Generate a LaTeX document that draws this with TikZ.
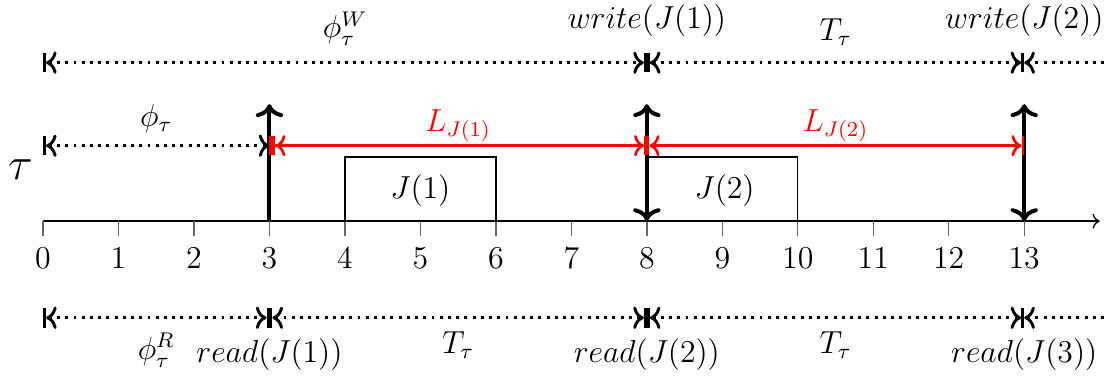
\documentclass[tikz,border=0pt]{standalone}
\usepackage{amsmath, amssymb}
\usetikzlibrary{arrows.meta}
\begin{document}
\begin{tikzpicture}[x=1cm, y=1cm, every node/.style={font=\fontsize{11.6}{14}\selectfont, inner sep=1pt},
  span/.style={line width=1.1pt,dotted},
  lat/.style={line width=1pt,red},
  rel/.style={line width=1.5pt},
  thinline/.style={line width=0.5pt}]
\useasboundingbox (-0.57,-2.05) rectangle (14.11,2.93);

% Task name
\node[font=\fontsize{19}{22}\selectfont] at (-0.3,0.68) (tau) {$\tau$};

% Time axis
\coordinate (ax0) at (0,0);
\coordinate (axend) at (14,0);
\draw[->,thinline] (ax0) -- (axend);
\foreach \t in {0,...,13} {
  \coordinate (tk\t) at (\t,0);
  \coordinate (tb\t) at (\t,-0.2);
  \draw[thinline,gray!80!black] (tk\t) -- (tb\t);
  \node at (\t,-0.49) (lab\t) {$\t$};
}

% Jobs
\draw[thinline] (4,0) rectangle (6,0.85);
\node at (5,0.41) (job1) {$J(1)$};
\draw[thinline] (8,0) rectangle (10,0.85);
\node at (9.03,0.41) (job2) {$J(2)$};

% Release instants
\coordinate (rel3) at (3,1.55);
\coordinate (rel8) at (8,1.55);
\coordinate (rel13) at (13,1.55);
\draw[->,rel] (tk3) -- (rel3);
\draw[<->,rel] (tk8) -- (rel8);
\draw[<->,rel] (tk13) -- (rel13);

% Write instants
\coordinate (wr0) at (0,2.1);
\coordinate (wr8) at (8,2.1);
\coordinate (wr13) at (13,2.1);
\coordinate (wrend) at (14.11,2.1);
\draw[|<->|,span] (wr0) -- (wr8);
\draw[|<->|,span] (wr8) -- (wr13);
\draw[<-,span] (wr13) -- (wrend);
\node at (4,2.55) (phiw) {$\phi_\tau^W$};
\node at (8,2.66) (w1) {$write(J(1))$};
\node at (10.5,2.5) (tw) {$T_\tau$};
\node at (13,2.66) (w2) {$write(J(2))$};

% Offset and latencies
\coordinate (ph0) at (0,1);
\coordinate (ph3) at (3,1);
\coordinate (ph8) at (8,1);
\coordinate (ph13) at (13,1);
\draw[|<->,span] (ph0) -- (ph3);
\draw[{|[line width=2.2pt]<}-{>|},lat] (ph3) -- (ph8);
\draw[|<->|,lat] (ph8) -- (ph13);
\node at (1.5,1.36) (phi) {$\phi_\tau$};
\node[red] at (5.5,1.27) (lat1) {$L_{J(1)}$};
\node[red] at (10.5,1.27) (lat2) {$L_{J(2)}$};

% Read instants
\coordinate (rd0) at (0,-1.28);
\coordinate (rd3) at (3,-1.28);
\coordinate (rd8) at (8,-1.28);
\coordinate (rd13) at (13,-1.28);
\coordinate (rdend) at (14.11,-1.28);
\draw[|<->|,span] (rd0) -- (rd3);
\draw[|<->|,span] (rd3) -- (rd8);
\draw[|<->|,span] (rd8) -- (rd13);
\draw[<-,span] (rd13) -- (rdend);
\node at (1.5,-1.71) (phir) {$\phi_\tau^R$};
\node at (3,-1.77) (r1) {$read(J(1))$};
\node at (5.5,-1.64) (tr1) {$T_\tau$};
\node at (8,-1.77) (r2) {$read(J(2))$};
\node at (10.5,-1.64) (tr2) {$T_\tau$};
\node at (13,-1.77) (r3) {$read(J(3))$};

\end{tikzpicture}
\end{document}
